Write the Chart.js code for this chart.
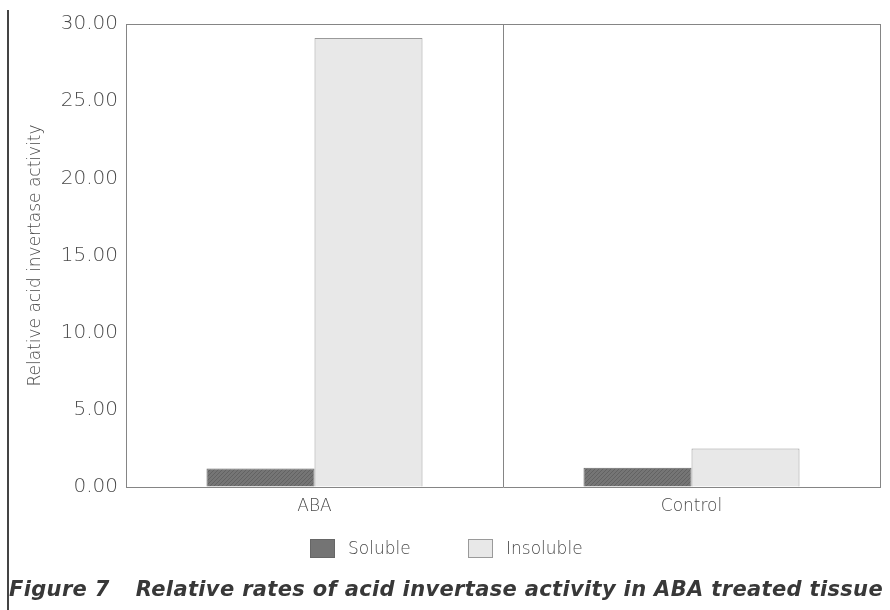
<html>
<head>
<meta charset="utf-8">
<script src="https://cdn.jsdelivr.net/npm/chart.js"></script>
<style>
  body { margin: 0; background: #fff; }
  #wrap { position: relative; width: 890px; height: 610px; }
  #edge { position: absolute; left: 7px; top: 10px; width: 2px; height: 600px; background: #444; }
  #legend {
    position: absolute; top: 537px; left: 310px; white-space: nowrap;
    font-family: 'DejaVu Sans', sans-serif; font-weight: 300; font-size: 17px; color: #4a4a4a;
  }
  #legend .item { display: inline-block; vertical-align: middle; }
  #legend .box { display: inline-block; width: 25px; height: 19px; vertical-align: middle; margin-right: 13px; box-sizing: border-box; }
  #legend .sol { background: #747474; border: 1px solid #666; }
  #legend .ins { background: #e8e8e8; border: 1px solid #9a9a9a; }
  #caption {
    position: absolute; left: 9px; top: 577px; white-space: nowrap;
    font-family: 'DejaVu Sans', sans-serif; font-weight: 700; font-style: italic;
    font-size: 21px; color: #383838;
  }
  #caption span { margin-right: 26px; }
</style>
</head>
<body>
<div id="wrap">
  <canvas id="myChart" width="890" height="610"></canvas>
  <div id="edge"></div>
  <div id="legend">
    <span class="item"><span class="box sol"></span>Soluble</span>
    <span class="item" style="margin-left:52px"><span class="box ins"></span>Insoluble</span>
  </div>
  <div id="caption"><span>Figure 7</span>Relative rates of acid invertase activity in ABA treated tissue</div>
</div>
<script>
// 데이터
const categories = ['ABA', 'Control'];
const solubleValues = [1.2, 1.25];
const insolubleValues = [29.1, 2.5];
const yTicks = [0, 5, 10, 15, 20, 25, 30];

// 캡션 폭을 원본처럼 맞추기
const cap = document.getElementById('caption');
const capW = cap.getBoundingClientRect().width;
cap.style.letterSpacing = ((874 - capW) / cap.textContent.length) + 'px';

// soluble 막대 빗금 패턴
function hatch() {
    const c = document.createElement('canvas');
    c.width = 4; c.height = 4;
    const g = c.getContext('2d');
    g.fillStyle = '#757575';
    g.fillRect(0, 0, 4, 4);
    g.strokeStyle = '#626262';
    g.lineWidth = 1;
    g.beginPath();
    g.moveTo(0, 4); g.lineTo(4, 0);
    g.stroke();
    return g.createPattern(c, 'repeat');
}

const txt = '#4a4a4a';
const line = '#858585';
const font = 'DejaVu Sans';

new Chart(document.getElementById('myChart'), {
    type: 'bar',
    data: {
        labels: categories,
        datasets: [{
            label: 'Soluble',
            data: solubleValues,
            backgroundColor: hatch(),
            borderColor: '#666',
            borderWidth: 1
        }, {
            label: 'Insoluble',
            data: insolubleValues,
            backgroundColor: '#e8e8e8',
            borderColor: '#9a9a9a',
            borderWidth: 1
        }]
    },
    options: {
        responsive: false,
        animation: false,
        layout: { padding: { left: 0, right: 10, top: 24, bottom: 87 } },
        datasets: { bar: { categoryPercentage: 0.573, barPercentage: 1.0 } },
        plugins: {
            tooltip: { enabled: false },
            legend: { display: false }
        },
        scales: {
            x: {
                grid: { color: line, drawTicks: false, offset: true },
                border: { color: line },
                ticks: { color: txt, font: { family: font, size: 17, weight: 300 }, padding: 9 },
                afterFit: function(s) { s.height = 36; }
            },
            y: {
                min: 0,
                max: 30,
                afterBuildTicks: function(s) { s.ticks = yTicks.map(v => ({ value: v })); },
                grid: {
                    drawTicks: false,
                    color: function(ctx) { return ctx.tick && ctx.tick.value === 30 ? line : 'rgba(0,0,0,0)'; }
                },
                border: { color: line },
                ticks: {
                    color: txt,
                    font: { family: font, size: 20, weight: 300 },
                    padding: 8,
                    callback: function(v) { return Number(v).toFixed(2); }
                },
                title: {
                    display: true,
                    text: 'Relative acid invertase activity',
                    color: txt,
                    font: { family: font, size: 17, weight: 300 },
                    padding: { top: 25, bottom: 0 }
                },
                afterFit: function(s) { s.width = 126; }
            }
        }
    }
});
</script>
</body>
</html>
